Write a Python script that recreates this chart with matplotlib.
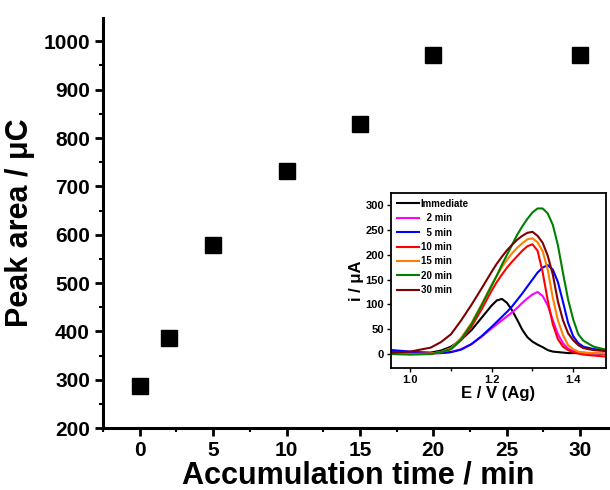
import matplotlib
matplotlib.use('Agg')
from matplotlib import pyplot as plt
from matplotlib.ticker import MultipleLocator

plt.rcParams['font.family'] = ['Liberation Sans', 'DejaVu Sans']
plt.rcParams['font.weight'] = 'bold'

# main plot: peak area vs accumulation time
acc_time  = [0, 2, 5, 10, 15, 20, 30]
peak_area = [287, 386, 578, 732, 828, 972, 972]

# inset: voltammograms, current (uA) vs potential (V)
E = [0.955, 1.0, 1.05, 1.075, 1.10, 1.125, 1.15, 1.175, 1.20, 1.2125,
     1.225, 1.2375, 1.25, 1.2625, 1.275, 1.2875, 1.30, 1.3125, 1.325,
     1.3375, 1.35, 1.3625, 1.375, 1.3875, 1.40, 1.4125, 1.425, 1.45, 1.48]
i_immediate = [4, 3, 3, 7, 15, 29, 48, 73, 98, 108,
               111, 103, 88, 69, 49, 34, 25, 19, 14,
               8, 5, 4, 3, 2, 2, 2, 2, 1, 0]
i_2min  = [3, 2, 1, 2, 4, 10, 20, 35, 52, 60,
           68, 76, 84, 93, 103, 112, 120, 125, 117,
           98, 68, 40, 22, 11, 6, 4, 3, 1, 1]
i_5min  = [8, 5, 2, 2, 4, 9, 20, 36, 55, 65,
           75, 85, 96, 109, 122, 136, 150, 164, 174,
           179, 170, 145, 105, 63, 36, 22, 15, 10, 8]
i_10min = [1, 0, 1, 4, 10, 28, 55, 90, 128, 145,
           160, 174, 186, 197, 208, 217, 221, 208, 165,
           108, 60, 30, 15, 8, 4, 1, -1, -3, -5]
i_15min = [0, 0, 1, 4, 12, 33, 62, 100, 140, 158,
           175, 190, 203, 214, 223, 231, 233, 225, 207,
           170, 113, 68, 38, 18, 10, 5, 3, 2, 1]
i_20min = [0, -1, 0, 4, 10, 30, 60, 98, 138, 158,
           180, 200, 220, 240, 257, 272, 285, 293, 293,
           283, 260, 219, 163, 110, 70, 40, 27, 15, 9]
i_30min = [3, 5, 13, 24, 40, 68, 99, 132, 166, 182,
           196, 209, 220, 230, 238, 244, 246, 238, 224,
           198, 160, 106, 68, 42, 28, 18, 12, 8, 6]

curves = [
    (i_immediate, 'Immediate', 'black'),
    (i_2min, '  2 min', '#ff00ff'),
    (i_5min, '  5 min', '#0000ff'),
    (i_10min, '10 min', '#ff0000'),
    (i_15min, '15 min', '#ff8000'),
    (i_20min, '20 min', '#008000'),
    (i_30min, '30 min', '#800000'),
]

fig = plt.figure(figsize=(6.1, 4.9), dpi=100)
ax = fig.add_axes([0.169, 0.1265, 0.835, 0.8365])

ax.plot(acc_time, peak_area, 's', color='black', markersize=12)
ax.set_xlim(-2.5, 32.2)
ax.set_ylim(200, 1048)
ax.set_xticks([0, 5, 10, 15, 20, 25, 30])
ax.xaxis.set_minor_locator(MultipleLocator(2.5))
ax.set_yticks(range(200, 1001, 100))
ax.yaxis.set_minor_locator(MultipleLocator(50))
ax.spines['top'].set_visible(False)
ax.spines['right'].set_visible(False)
ax.spines['left'].set_linewidth(2.2)
ax.spines['bottom'].set_linewidth(2.2)
ax.tick_params(which='major', direction='out', length=6, width=2, labelsize=15)
ax.tick_params(which='minor', direction='out', length=3, width=1.5)
for lbl in ax.get_xticklabels() + ax.get_yticklabels():
    lbl.set_fontweight('bold')
ax.set_xlabel('Accumulation time / min', fontsize=22, fontweight='bold', labelpad=0)
ax.set_ylabel('Peak area / \u03bcC', fontsize=22, fontweight='bold', labelpad=6)

# inset
axi = fig.add_axes([0.641, 0.249, 0.352, 0.357])
for vals, lab, col in curves:
    axi.plot(E, vals, color=col, linewidth=1.5, label=lab)
axi.set_xlim(0.9525, 1.48)
axi.set_ylim(-28, 324)
axi.set_xticks([1.0, 1.2, 1.4])
axi.xaxis.set_minor_locator(MultipleLocator(0.1))
axi.set_yticks(range(0, 301, 50))
for s in axi.spines.values():
    s.set_linewidth(1.3)
axi.tick_params(which='major', direction='out', length=3, width=1, labelsize=8, pad=2)
axi.tick_params(which='minor', direction='out', length=2, width=1)
for lbl in axi.get_xticklabels() + axi.get_yticklabels():
    lbl.set_fontweight('bold')
axi.set_xlabel('E / V (Ag)', fontsize=12, fontweight='bold', labelpad=1)
axi.set_ylabel('i / \u03bcA', fontsize=12, fontweight='bold', labelpad=1)
axi.legend(loc='upper left', frameon=False, handlelength=2.3,
           handletextpad=0.15, labelspacing=0.45, borderaxespad=0.2,
           prop={'weight': 'bold', 'size': 7})

fig.savefig('out.png', dpi=100)
